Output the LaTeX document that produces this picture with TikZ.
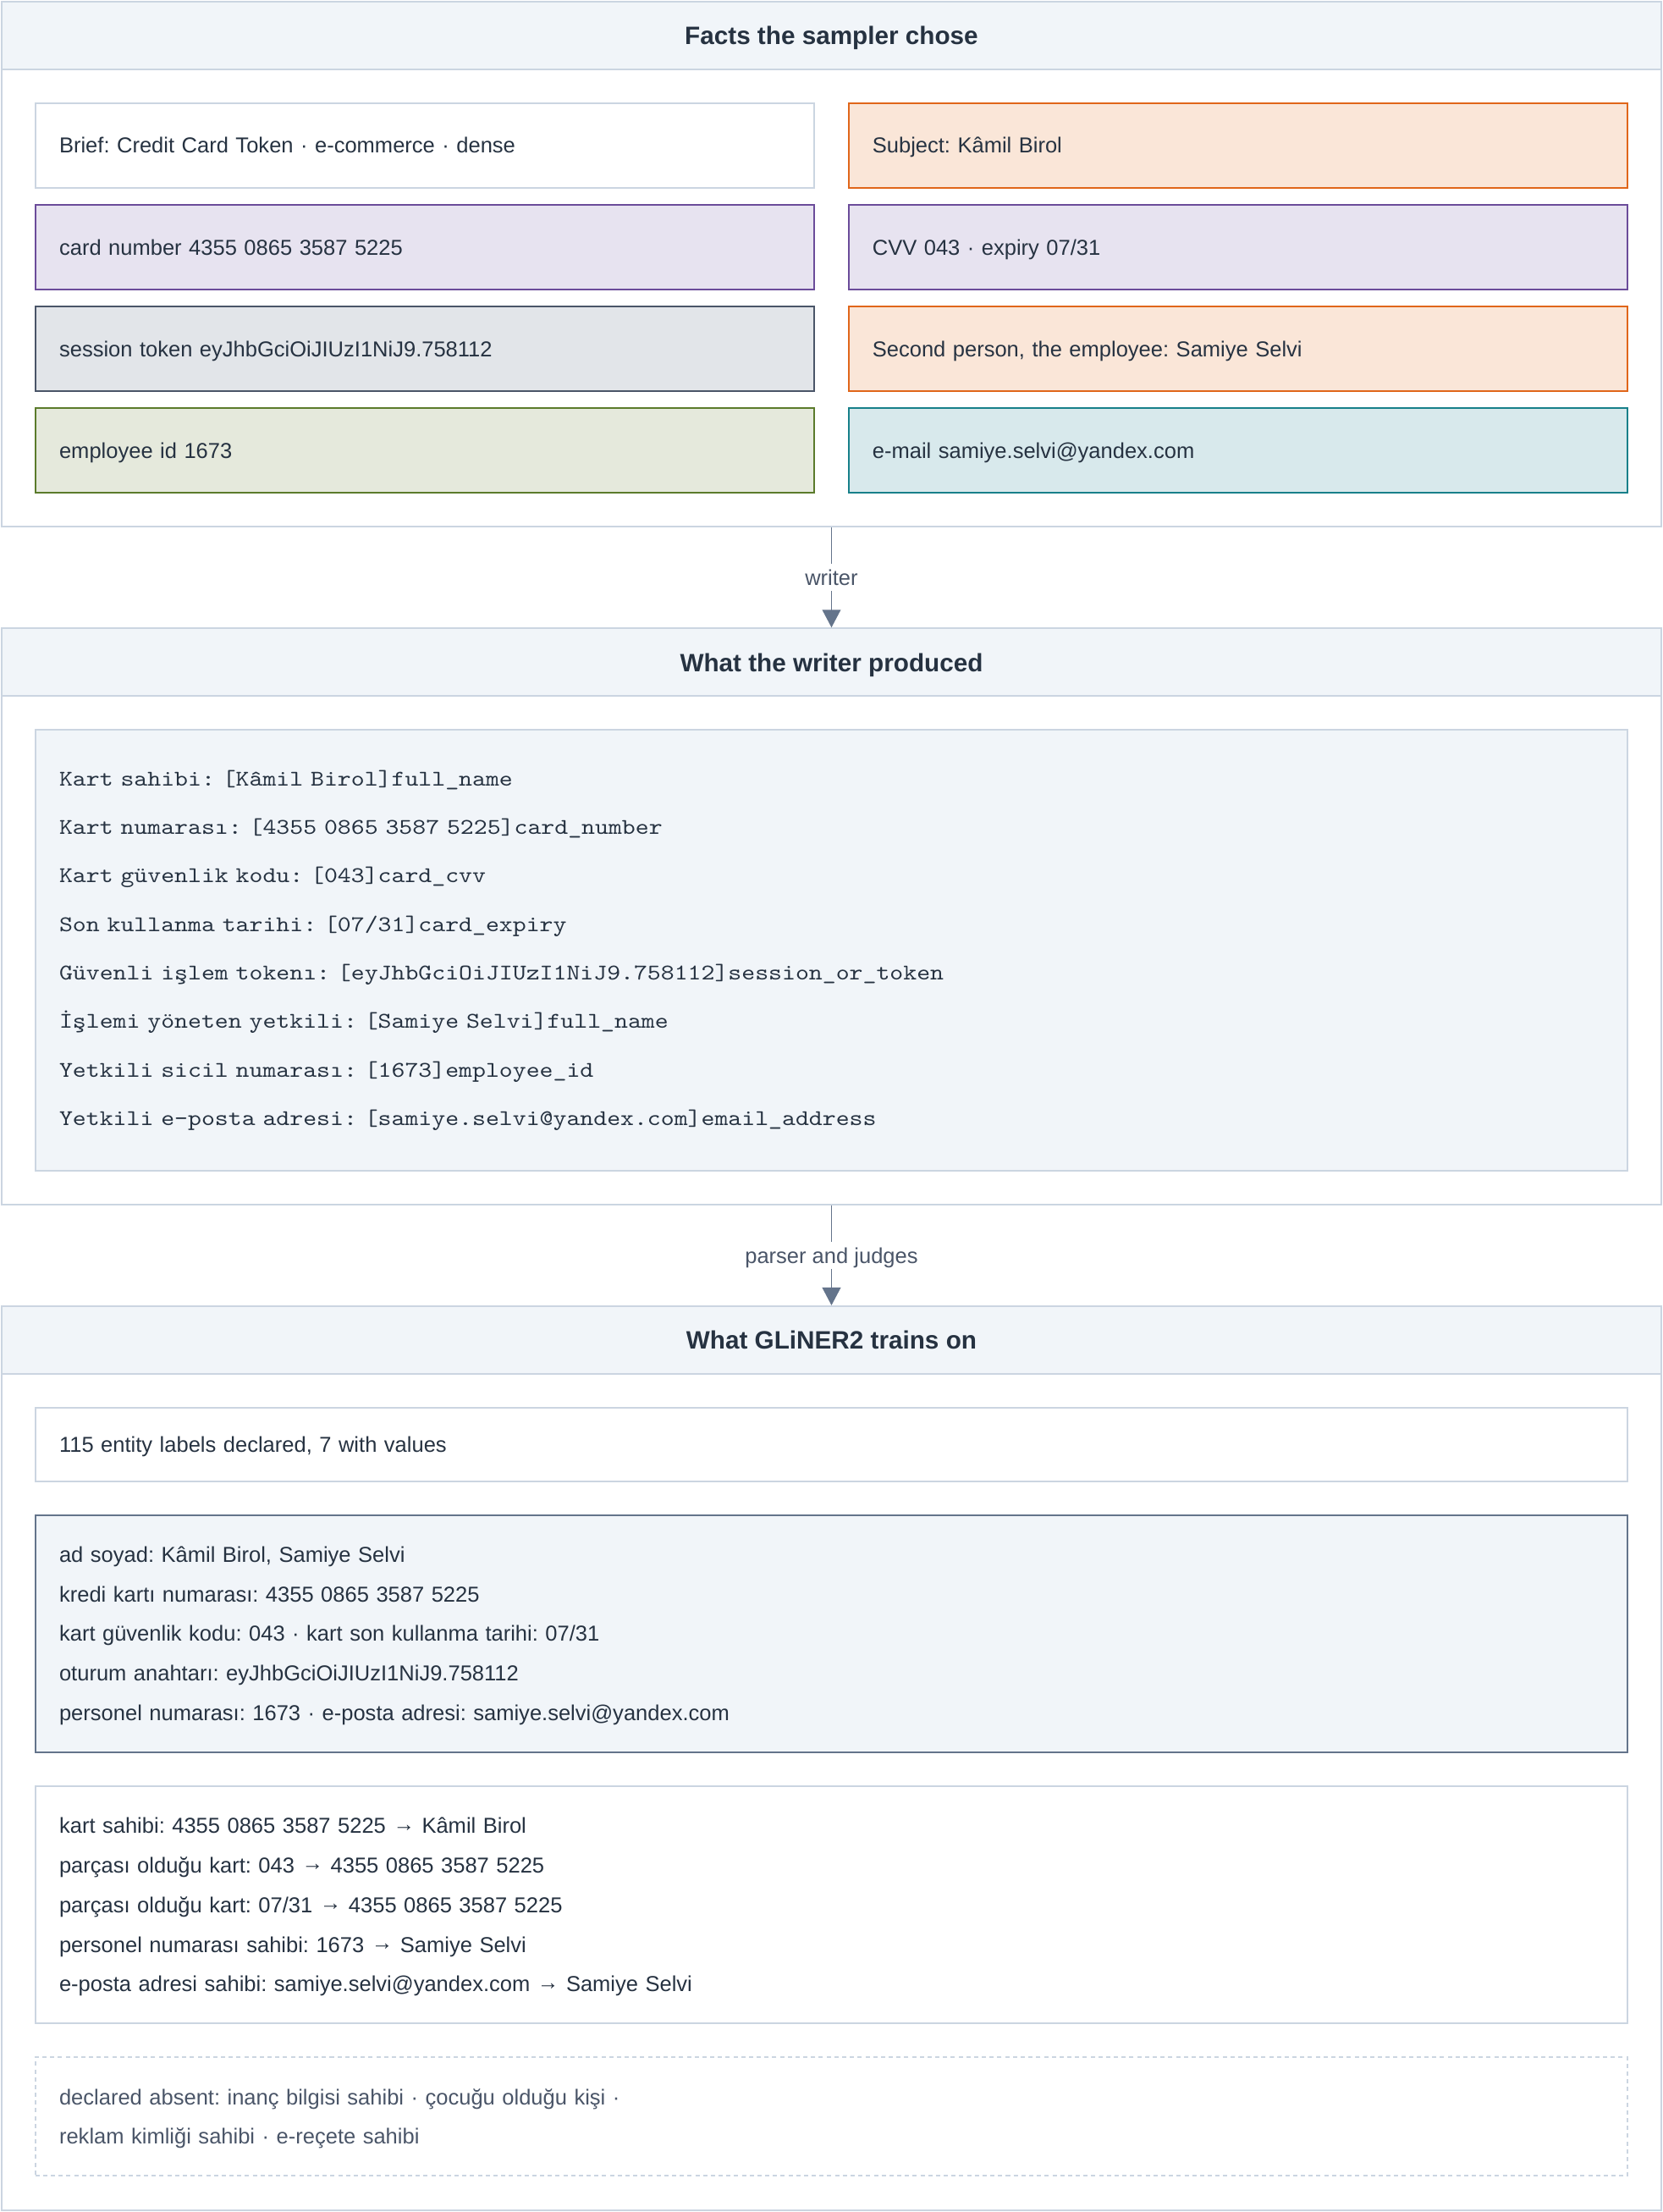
\documentclass[tikz,border=0pt]{standalone}
\usepackage{fontspec}
\setmainfont{Liberation Sans}
\newfontfamily\codefont[Extension=.otf, FakeStretch=1.143]{lmmono10-regular}
\usetikzlibrary{arrows.meta}
\frenchspacing
\definecolor{cline}{HTML}{CBD5E1}
\definecolor{chead}{HTML}{F1F5F9}
\definecolor{ink}{HTML}{263241}
\definecolor{soft}{HTML}{4A5568}
\definecolor{arrowc}{HTML}{64748B}
\definecolor{purpleB}{HTML}{6B4C9A}
\definecolor{purpleF}{HTML}{E7E3F0}
\definecolor{slateB}{HTML}{4A5568}
\definecolor{slateF}{HTML}{E2E5E9}
\definecolor{greenB}{HTML}{5B7B2B}
\definecolor{greenF}{HTML}{E5E9DC}
\definecolor{orangeB}{HTML}{E0661A}
\definecolor{orangeF}{HTML}{FAE6D8}
\definecolor{tealB}{HTML}{17808A}
\definecolor{tealF}{HTML}{D8E9EC}
\definecolor{boxB}{HTML}{64748B}
\newcommand{\rarr}{\raisebox{1.5pt}{→}}
\newcommand{\topstrut}{\rule{0pt}{14pt}}
\begin{document}
\begin{tikzpicture}[x=1pt,y=-1pt,
  bodyfont/.style={font=\fontsize{15.3}{18}\selectfont\frenchspacing},
  panel/.style={rectangle, draw=cline, fill=white, line width=1.2pt, minimum width=1176pt, inner sep=0pt},
  head/.style={rectangle, draw=cline, fill=chead, line width=1.2pt, minimum width=1176pt, minimum height=48pt, inner sep=0pt, text height=12.8pt, text depth=0pt, text=ink, font=\fontsize{17.8}{20}\selectfont\bfseries},
  fact/.style={rectangle, draw=cline, fill=white, line width=1.2pt, minimum height=60pt, text width=518pt, inner xsep=17pt, inner ysep=0pt, align=left, text=ink, bodyfont},
  onel/.style={text height=11pt, text depth=0pt},
  wide/.style={fact, text width=1094pt},
  conn/.style={draw=arrowc, line width=1.1pt, -{Triangle[length=12.6pt,width=13pt]}},
  lbl/.style={fill=white, text=soft, bodyfont, inner xsep=3pt, inner ysep=4.1pt, text height=11.2pt, text depth=0pt}
]
\useasboundingbox (0,0) rectangle (1178,1566.5);
\fill[white] (0,0) rectangle (1178,1566.5);

% ---------- panel 1 ----------
\node[panel, minimum height=372pt] (p1) at (589,187) {};
\node[head] (h1) at (589,25) {Facts the sampler chose};
\node[fact, onel] (brief) at (301,103) {Brief: Credit Card Token · e-commerce · dense};
\node[fact, onel, draw=orangeB, fill=orangeF] (subj) at (877,103) {Subject: Kâmil Birol};
\node[fact, onel, draw=purpleB, fill=purpleF] (card) at (301,175) {card number 4355 0865 3587 5225};
\node[fact, onel, draw=purpleB, fill=purpleF] (cvv) at (877,175) {CVV 043 · expiry 07/31};
\node[fact, onel, draw=slateB, fill=slateF] (tok) at (301,247) {session token eyJhbGciOiJIUzI1NiJ9.758112};
\node[fact, onel, draw=orangeB, fill=orangeF] (second) at (877,247) {Second person, the employee: Samiye Selvi};
\node[fact, onel, draw=greenB, fill=greenF] (emp) at (301,319) {employee id 1673};
\node[fact, onel, draw=tealB, fill=tealF] (mail) at (877,319) {e-mail samiye.selvi@yandex.com};

% ---------- panel 2 ----------
\node[panel, minimum height=408pt] (p2) at (589,649) {};
\node[head] (h2) at (589,469) {What the writer produced};
\node[wide, draw=cline, fill=chead, minimum height=312pt, font=\codefont\fontsize{15.9}{34.36}\selectfont\frenchspacing] (code) at (589,673) {Kart sahibi: [Kâmil Birol]full\_name\\
Kart numarası: [4355 0865 3587 5225]card\_number\\
Kart güvenlik kodu: [043]card\_cvv\\
Son kullanma tarihi: [07/31]card\_expiry\\
Güvenli işlem tokenı: [eyJhbGciOiJIUzI1NiJ9.758112]session\_or\_token\\
İşlemi yöneten yetkili: [Samiye Selvi]full\_name\\
Yetkili sicil numarası: [1673]employee\_id\\
Yetkili e-posta adresi: [samiye.selvi@yandex.com]email\_address};

% ---------- panel 3 ----------
\node[panel, minimum height=640pt] (p3) at (589,1245) {};
\node[head] (h3) at (589,949) {What GLiNER2 trains on};
\node[wide, onel, minimum height=52pt] (labels) at (589,1023) {115 entity labels declared, 7 with values};
\node[wide, draw=boxB, fill=chead, minimum height=168pt, font=\fontsize{15.3}{28.1}\selectfont\frenchspacing] (ents) at (589,1157) {\topstrut ad soyad: Kâmil Birol, Samiye Selvi\\
kredi kartı numarası: 4355 0865 3587 5225\\
kart güvenlik kodu: 043 · kart son kullanma tarihi: 07/31\\
oturum anahtarı: eyJhbGciOiJIUzI1NiJ9.758112\\
personel numarası: 1673 · e-posta adresi: samiye.selvi@yandex.com};
\node[wide, minimum height=168pt, font=\fontsize{15.3}{28.1}\selectfont\frenchspacing] (rels) at (589,1349) {\topstrut kart sahibi: 4355 0865 3587 5225 \rarr{} Kâmil Birol\\
parçası olduğu kart: 043 \rarr{} 4355 0865 3587 5225\\
parçası olduğu kart: 07/31 \rarr{} 4355 0865 3587 5225\\
personel numarası sahibi: 1673 \rarr{} Samiye Selvi\\
e-posta adresi sahibi: samiye.selvi@yandex.com \rarr{} Samiye Selvi};
\node[wide, dash pattern=on 3pt off 2.5pt, text=soft, minimum height=84pt, font=\fontsize{15.3}{27.5}\selectfont\frenchspacing] (absent) at (589,1499) {\topstrut declared absent: inanç bilgisi sahibi · çocuğu olduğu kişi ·\\
reklam kimliği sahibi · e-reçete sahibi};

% ---------- connectors ----------
\draw[conn] (p1.south) -- node[lbl] {writer} (p2.north);
\draw[conn] (p2.south) -- node[lbl] {parser and judges} (p3.north);
\end{tikzpicture}
\end{document}
